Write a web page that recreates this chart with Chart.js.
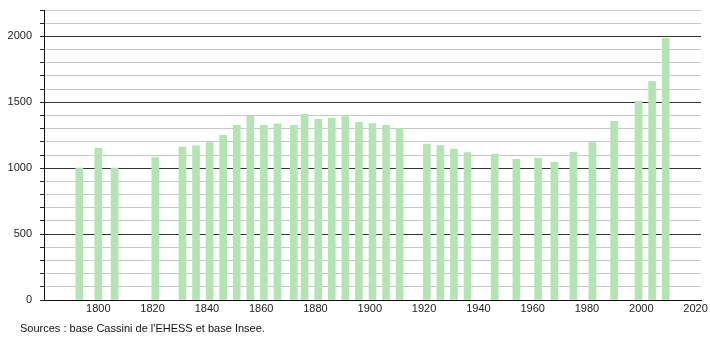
<!DOCTYPE html>
<html>
<head>
<meta charset="utf-8">
<script src="https://cdn.jsdelivr.net/npm/chart.js@4/dist/chart.umd.min.js"></script>
<style>
  html, body { margin: 0; padding: 0; background: #fff; }
  #wrap { position: relative; width: 710px; height: 340px; }
  #source {
    position: absolute; left: 20px; top: 322px;
    font: 11px "Liberation Sans", Arial, sans-serif; color: #111;
  }
</style>
</head>
<body>
<div id="wrap">
  <canvas id="popChart" width="710" height="340"></canvas>
  <div id="source">Sources : base Cassini de l'EHESS et base Insee.</div>
</div>
<script>
  /* ─── Data ─── */
  const years = [1793, 1800, 1806, 1821, 1831, 1836, 1841, 1846, 1851, 1856, 1861, 1866,
                 1872, 1876, 1881, 1886, 1891, 1896, 1901, 1906, 1911, 1921, 1926, 1931,
                 1936, 1946, 1954, 1962, 1968, 1975, 1982, 1990, 1999, 2004, 2009];
  const population = [1000, 1150, 1000, 1080, 1160, 1170, 1195, 1250, 1326, 1394, 1326, 1336,
                      1326, 1409, 1371, 1381, 1391, 1348, 1338, 1326, 1303, 1182, 1172, 1144,
                      1119, 1106, 1068, 1076, 1045, 1121, 1195, 1356, 1508, 1659, 1985];
  const xTickLabels = [1800, 1820, 1840, 1860, 1880, 1900, 1920, 1940, 1960, 1980, 2000, 2020];
  const yTickLabels = [0, 500, 1000, 1500, 2000];

  const font = { family: '"Liberation Sans", Arial, sans-serif', size: 11 };
  const isMajor = (v) => yTickLabels.includes(v);

  new Chart(document.getElementById('popChart'), {
    type: 'bar',
    data: {
      datasets: [{
        data: years.map((y, i) => ({ x: y, y: population[i] })),
        backgroundColor: 'rgb(178, 229, 178)',
        borderWidth: 0,
        barThickness: 7
      }]
    },
    options: {
      responsive: false,
      animation: false,
      events: [],
      layout: { padding: { top: 10, right: 9, left: 0, bottom: 0 } },
      plugins: { legend: { display: false }, tooltip: { enabled: false } },
      scales: {
        x: {
          type: 'linear',
          min: 1780,
          max: 2022,
          offset: false,
          grid: { display: false, drawTicks: false, offset: false },
          border: { display: true, color: '#111', width: 1 },
          afterBuildTicks: (s) => { s.ticks = xTickLabels.map(v => ({ value: v })); },
          afterFit: (s) => { s.height = 40; s.paddingLeft = 0; s.paddingRight = 0; },
          ticks: { color: '#222', font: font, padding: 2, maxRotation: 0, autoSkip: false,
                   callback: (v) => String(v) }
        },
        y: {
          min: 0,
          max: 2200,
          afterFit: (s) => { s.width = 44; s.paddingTop = 0; s.paddingBottom = 0; },
          grid: {
            color: (c) => isMajor(c.tick.value) ? '#333' : '#c8c8c8',
            tickColor: '#222',
            tickLength: 4,
            lineWidth: 1
          },
          border: { display: true, color: '#111', width: 1 },
          ticks: {
            stepSize: 100,
            color: '#222',
            font: font,
            padding: 8,
            autoSkip: false,
            callback: (v) => isMajor(v) ? String(v) : ''
          }
        }
      }
    }
  });
</script>
</body>
</html>
